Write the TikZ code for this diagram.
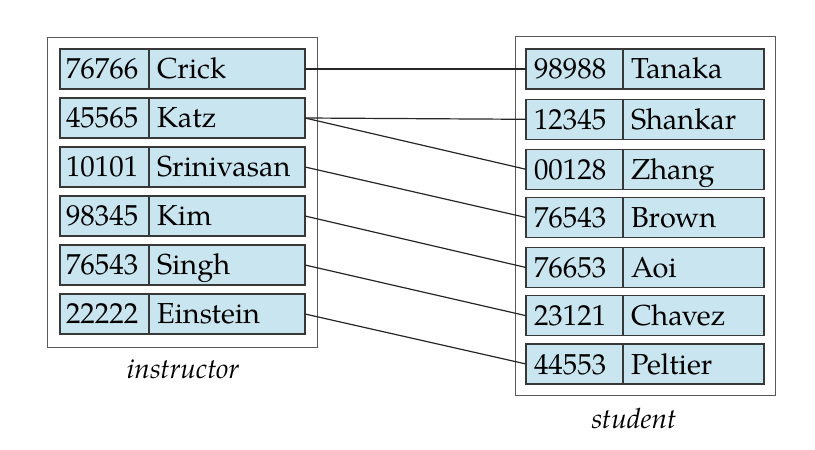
\documentclass[tikz,border=0pt]{standalone}
\usepackage{fontspec}
\setmainfont{TeX Gyre Pagella}
\begin{document}
\begin{tikzpicture}[x=1bp,y=-1bp,
  cellbase/.style={draw=black!78, line width=1.3bp, fill=cellblue, inner ysep=0pt, outer sep=0pt,
    text height=30bp, text depth=10bp, align=left, anchor=north west,
    font=\fontsize{29}{32}\selectfont},
  lnum/.style={cellbase, inner xsep=6bp, text width=77bp},
  lname/.style={cellbase, inner xsep=8bp, text width=140bp},
  rnum/.style={cellbase, inner xsep=8bp, text width=81bp},
  rname/.style={cellbase, inner xsep=8bp, text width=125bp},
  outer/.style={draw=black!65, line width=1.1bp},
  link/.style={draw=black!85, line width=1.2bp},
  caption/.style={anchor=base, font=\fontsize{28}{32}\selectfont\itshape}]
\definecolor{cellblue}{RGB}{201,229,240}
\useasboundingbox (0,0) rectangle (815,450);
% outer boxes
\node[outer, minimum width=270bp, minimum height=310bp, anchor=north west, inner sep=0pt] (ibox) at (47,37) {};
\node[outer, minimum width=260bp, minimum height=359bp, anchor=north west, inner sep=0pt] (sbox) at (515,36) {};
% instructor rows
\foreach \i/\y/\n/\m in {1/49/76766/Crick, 2/98/45565/Katz, 3/147/10101/Srinivasan, 4/196/98345/Kim, 5/245/76543/Singh, 6/294/22222/Einstein}{
  \node[lnum] (in\i) at (60,\y) {\n};
  \node[lname] (im\i) at (in\i.north east) {\m};
}
% student rows
\foreach \i/\y/\n/\m in {1/49/98988/Tanaka, 2/99.3/12345/Shankar, 3/149.3/00128/Zhang, 4/197.5/76543/Brown, 5/247.5/76653/Aoi, 6/295.7/23121/Chavez, 7/344/44553/Peltier}{
  \node[rnum] (sn\i) at (526,\y) {\n};
  \node[rname] (sm\i) at (sn\i.north east) {\m};
}
% connectors
\draw[link] (im1.east) -- (sn1.west);
\draw[link] (im2.east) -- (sn2.west);
\draw[link] (im2.east) -- (sn3.west);
\draw[link] (im3.east) -- (sn4.west);
\draw[link] (im4.east) -- (sn5.west);
\draw[link] (im5.east) -- (sn6.west);
\draw[link] (im6.east) -- (sn7.west);
% captions
\node[caption] (icap) at (183,379) {instructor};
\node[caption] (scap) at (634,428) {student};
\end{tikzpicture}
\end{document}
